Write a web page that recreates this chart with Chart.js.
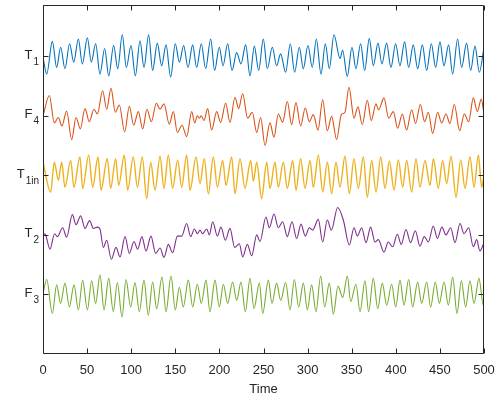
<!DOCTYPE html>
<html>
<head>
<meta charset="utf-8">
<script src="https://cdn.jsdelivr.net/npm/chart.js@4.4.1/dist/chart.umd.min.js"></script>
<style>
html,body{margin:0;padding:0;background:#fff;}
#wrap{width:500px;height:398px;}
</style>
</head>
<body>
<div id="wrap"><canvas id="c" width="500" height="398"></canvas></div>
<script>
// ---- data (time, value around each trace's baseline) ----
const labelMain = ['T', 'F', 'T', 'T', 'F'];
const labelSub  = ['1', '4', '1in', '2', '3'];
const baseline  = [4, 3, 2, 1, 0];
const xTicks = [0, 50, 100, 150, 200, 250, 300, 350, 400, 450, 500];

const T1 = [[0,-0.02],[4.2,-0.30],[10.6,0.25],[15.5,-0.19],[20.0,0.15],[24.9,-0.21],[30.2,0.21],[34.8,-0.10],[40.1,0.29],[44.6,-0.13],[50.3,0.31],[54.8,-0.10],[59.7,0.21],[64.6,-0.30],[69.9,0.13],[74.5,-0.33],[80.1,0.18],[84.7,-0.21],[89.9,0.36],[94.5,-0.19],[99.8,0.18],[104.7,-0.33],[110.0,0.26],[114.5,-0.19],[119.8,0.36],[124.3,-0.24],[129.6,0.22],[134.5,-0.16],[139.5,0.19],[144.7,-0.35],[150.0,0.21],[154.6,-0.10],[159.5,0.18],[164.4,-0.19],[169.7,0.19],[174.2,-0.19],[179.5,0.21],[184.4,-0.21],[190.1,0.29],[194.6,-0.24],[199.9,0.15],[204.1,-0.16],[209.4,0.21],[214.3,-0.24],[219.6,0.06],[224.5,-0.13],[229.8,0.19],[234.7,-0.33],[239.6,0.17],[244.5,-0.24],[249.8,0.29],[254.3,-0.21],[260.0,0.15],[264.9,-0.16],[269.4,0.04],[275.1,-0.27],[280.4,0.21],[285.3,-0.27],[290.6,0.15],[295.1,-0.21],[300.4,0.18],[305.3,-0.19],[309.9,0.29],[315.2,-0.30],[320.1,0.21],[324.6,-0.21],[329.9,0.36],[336.7,-0.04],[339.7,0.10],[345.0,-0.34],[350.3,0.15],[354.8,-0.21],[360.1,0.21],[364.7,-0.24],[370.0,0.30],[374.5,-0.16],[379.8,0.22],[384.3,-0.13],[389.6,0.22],[394.5,-0.19],[399.8,0.21],[404.7,-0.16],[410.0,0.24],[414.6,-0.19],[419.8,0.19],[424.8,-0.21],[430.1,0.19],[435.0,-0.24],[440.3,0.21],[445.2,-0.19],[450.1,0.24],[454.6,-0.16],[459.9,0.19],[464.4,-0.30],[470.1,0.29],[474.6,-0.19],[480.3,0.22],[484.9,-0.24],[489.8,0.17],[494.7,-0.27],[500.0,0.15]];

const F4 = [[0,0.00],[7.2,0.34],[12.8,-0.12],[17.4,-0.03],[21.5,-0.17],[26.8,0.08],[32.5,-0.40],[37.4,-0.03],[42.3,-0.22],[47.6,0.12],[52.5,-0.10],[57.8,0.11],[61.6,0.03],[67.6,0.42],[72.2,0.11],[77.1,0.46],[82.0,0.06],[86.5,0.18],[92.6,-0.27],[97.9,0.16],[102.8,-0.16],[108.1,0.07],[113.0,-0.22],[117.9,0.11],[122.8,-0.10],[128.5,0.21],[132.7,0.11],[137.2,0.20],[143.2,-0.14],[147.8,0.07],[152.3,-0.28],[157.6,-0.16],[162.9,-0.35],[168.6,0.07],[172.0,-0.12],[175.0,0.00],[177.3,-0.04],[179.5,0.00],[182.5,-0.08],[186.7,0.12],[191.2,-0.24],[196.9,0.07],[201.4,-0.11],[207.1,0.21],[212.0,-0.11],[217.7,0.31],[221.8,0.12],[226.4,0.37],[232.0,-0.04],[237.3,0.06],[242.3,-0.28],[246.8,-0.03],[251.7,-0.50],[257.3,-0.12],[261.9,-0.36],[266.8,0.03],[271.7,-0.11],[277.0,0.24],[281.9,-0.15],[286.8,0.22],[292.1,-0.17],[297.4,0.13],[301.9,-0.10],[306.5,0.02],[311.8,-0.24],[317.1,0.27],[322.3,-0.25],[327.3,-0.01],[332.9,-0.40],[338.2,0.02],[342.4,0.06],[346.9,0.48],[352.6,-0.04],[357.1,0.15],[362.0,-0.15],[367.7,0.26],[372.2,-0.08],[377.5,0.20],[380.5,0.10],[386.6,0.30],[391.9,-0.04],[397.2,0.07],[402.1,-0.21],[407.4,0.03],[412.3,-0.24],[418.0,0.10],[422.5,-0.13],[427.8,0.19],[432.7,-0.10],[436.9,0.06],[441.8,-0.30],[447.4,0.06],[452.0,-0.12],[456.9,0.03],[461.4,-0.13],[466.3,0.19],[472.4,-0.25],[477.7,0.03],[482.6,-0.10],[487.9,0.30],[492.4,0.07],[496.9,0.28],[500.0,0.02]];

const T1in = [[0,0.22],[8.7,-0.28],[12.8,0.22],[17.4,-0.08],[21.2,0.22],[24.9,-0.20],[31.4,0.25],[35.1,-0.20],[41.9,0.31],[45.0,-0.22],[51.8,0.34],[56.3,-0.20],[62.4,0.31],[65.8,-0.25],[72.9,0.28],[76.7,-0.22],[82.4,0.28],[85.8,-0.17],[92.2,0.34],[96.0,-0.25],[102.4,0.31],[107.0,-0.20],[112.6,0.31],[117.5,-0.39],[122.1,0.22],[127.0,-0.25],[132.7,0.32],[137.2,-0.22],[142.1,0.34],[147.0,-0.22],[152.7,0.26],[157.2,-0.20],[162.9,0.34],[166.7,-0.25],[173.5,0.31],[178.0,-0.14],[182.9,0.28],[187.5,-0.31],[193.1,0.31],[197.7,-0.20],[203.7,0.25],[207.5,-0.17],[213.9,0.31],[217.7,-0.31],[223.4,0.28],[229.0,-0.22],[235.5,0.25],[238.5,-0.10],[242.3,0.22],[247.9,-0.39],[253.6,0.22],[257.4,-0.22],[263.0,0.22],[266.8,-0.20],[272.5,0.22],[277.0,-0.22],[283.1,0.25],[286.9,-0.25],[292.1,0.28],[297.1,-0.22],[302.7,0.25],[306.5,-0.20],[312.2,0.34],[317.1,-0.28],[322.4,0.22],[327.3,-0.31],[332.2,0.22],[336.7,-0.20],[342.4,0.32],[347.3,-0.31],[352.6,0.28],[357.5,-0.22],[363.2,0.31],[367.7,-0.37],[372.6,0.25],[377.6,-0.28],[382.9,0.31],[387.8,-0.22],[392.7,0.24],[398.0,-0.25],[402.9,0.26],[407.8,-0.20],[412.3,0.25],[418.0,-0.28],[422.9,0.28],[427.4,-0.20],[433.1,0.25],[438.8,-0.17],[442.6,0.28],[448.2,-0.22],[453.1,0.25],[457.7,-0.14],[462.6,0.32],[468.3,-0.37],[473.6,0.26],[478.5,-0.22],[484.1,0.31],[488.7,-0.20],[493.6,0.34],[497.4,-0.20],[500.0,0.00]];

const T2 = [[0,0.02],[2.5,0.01],[7.9,-0.24],[13.2,0.02],[16.3,-0.03],[22.3,0.12],[26.8,-0.04],[33.3,0.34],[37.4,0.17],[42.7,0.32],[47.6,0.11],[52.9,0.24],[57.1,0.11],[61.6,0.13],[64.6,0.10],[68.4,-0.21],[72.2,-0.09],[77.5,-0.41],[82.8,-0.21],[87.3,-0.37],[93.0,-0.03],[97.9,-0.31],[103.2,-0.11],[107.3,-0.24],[112.2,-0.03],[116.8,-0.27],[122.4,-0.02],[127.7,-0.31],[132.7,-0.22],[137.2,-0.38],[142.1,-0.16],[147.0,-0.30],[152.3,-0.02],[157.2,-0.02],[162.9,0.19],[167.4,-0.03],[171.6,0.10],[175.0,0.02],[178.0,0.08],[181.0,0.02],[185.6,0.10],[188.6,0.00],[192.4,0.22],[197.7,-0.02],[201.8,0.13],[206.7,-0.09],[212.0,0.11],[217.3,-0.21],[222.6,-0.15],[226.4,-0.37],[231.7,-0.16],[236.6,-0.35],[242.3,0.00],[246.0,-0.11],[252.8,0.30],[256.6,0.12],[261.9,0.35],[266.8,0.12],[271.7,0.22],[277.0,-0.03],[282.3,0.22],[287.6,-0.06],[292.5,0.18],[297.4,-0.02],[301.9,0.12],[305.7,0.08],[312.1,0.26],[317.1,-0.12],[322.3,0.25],[326.9,0.08],[334.1,0.46],[340.5,0.25],[347.3,-0.17],[352.6,0.12],[356.4,-0.02],[361.3,0.12],[366.2,-0.13],[371.5,0.13],[376.4,-0.12],[380.2,-0.08],[386.6,-0.29],[391.5,-0.12],[396.4,-0.20],[401.7,0.01],[406.2,-0.16],[411.5,0.09],[416.8,-0.13],[422.1,0.07],[427.4,-0.19],[432.3,-0.03],[436.9,-0.12],[442.5,0.15],[447.1,-0.06],[452.3,0.13],[456.9,0.00],[462.2,0.12],[467.1,-0.13],[472.8,0.19],[477.3,0.02],[482.6,0.12],[487.9,-0.20],[491.7,-0.08],[495.4,-0.27],[500.0,-0.13]];

const F3 = [[0,0.02],[4.2,0.25],[10.6,-0.32],[15.5,0.16],[20.0,-0.15],[24.9,0.19],[29.9,-0.21],[35.1,0.16],[40.1,-0.26],[45.0,0.24],[50.3,-0.26],[55.2,0.23],[59.7,-0.15],[64.6,0.33],[69.2,-0.26],[74.5,0.27],[79.7,-0.29],[84.3,0.20],[89.6,-0.38],[94.1,0.25],[99.4,-0.21],[104.3,0.20],[109.2,-0.29],[114.5,0.24],[119.4,-0.35],[124.3,0.21],[128.9,-0.24],[134.9,0.29],[139.5,-0.29],[145.1,0.31],[150.0,-0.26],[154.6,0.12],[159.1,-0.21],[164.8,0.24],[169.7,-0.21],[175.0,0.17],[179.5,-0.15],[184.8,0.24],[189.3,-0.29],[195.0,0.24],[199.9,-0.21],[204.5,0.17],[209.4,-0.15],[215.0,0.21],[219.6,-0.10],[224.5,0.21],[229.4,-0.29],[234.7,0.27],[239.2,-0.24],[245.3,0.19],[249.1,-0.32],[255.5,0.24],[259.6,-0.15],[264.9,0.19],[269.5,-0.10],[275.1,0.20],[280.1,-0.26],[285.0,0.25],[289.9,-0.21],[295.2,0.19],[299.7,-0.26],[304.6,0.16],[309.5,-0.29],[314.8,0.31],[319.4,-0.21],[324.6,0.19],[329.2,-0.33],[334.5,0.14],[339.8,-0.05],[345.1,0.31],[348.8,-0.12],[354.9,0.17],[359.4,-0.29],[365.1,0.23],[369.2,-0.29],[374.5,0.27],[379.5,-0.24],[384.7,0.19],[389.7,-0.18],[395.3,0.17],[399.9,-0.21],[404.8,0.24],[409.3,-0.18],[414.6,0.25],[419.1,-0.21],[424.8,0.21],[429.3,-0.15],[435.0,0.21],[439.5,-0.21],[444.8,0.21],[449.4,-0.15],[454.7,0.21],[459.6,-0.18],[464.5,0.29],[469.4,-0.32],[474.3,0.23],[479.2,-0.21],[484.1,0.23],[488.7,-0.15],[494.3,0.27],[499.2,-0.18],[500.0,-0.16]];

const series = [T1, F4, T1in, T2, F3];
const colors = ['#0072BD', '#D95319', '#EDB120', '#7E2F8E', '#77AC30'];

// ---- chart ----
const AX = '#262626';
const FONT = '"Liberation Sans", Arial, Helvetica, sans-serif';

const datasets = series.map((s, i) => ({
  label: labelMain[i] + labelSub[i],
  data: s.map(p => ({x: p[0], y: baseline[i] + p[1]})),
  borderColor: colors[i],
  borderWidth: i === 2 ? 1.4 : 1.1,
  pointRadius: 0,
  fill: false,
  cubicInterpolationMode: 'monotone'
}));

const frame = {
  id: 'frame',
  afterDraw(chart) {
    const {ctx, chartArea: a, scales: {x, y}} = chart;
    ctx.save();
    ctx.strokeStyle = AX;
    ctx.lineWidth = 1;
    const L = Math.round(a.left) + 0.5, R = Math.round(a.right) - 0.5;
    const T = Math.round(a.top) + 0.5, B = Math.round(a.bottom) - 0.5;
    ctx.beginPath();
    ctx.rect(L, T, R - L, B - T);
    const tl = 5;
    xTicks.forEach(v => {
      const px = Math.round(x.getPixelForValue(v)) + 0.5;
      ctx.moveTo(px, B); ctx.lineTo(px, B - tl);
      ctx.moveTo(px, T); ctx.lineTo(px, T + tl);
    });
    baseline.forEach(v => {
      const py = Math.round(y.getPixelForValue(v)) + 0.5;
      ctx.moveTo(L, py); ctx.lineTo(L + tl, py);
      ctx.moveTo(R, py); ctx.lineTo(R - tl, py);
    });
    ctx.stroke();
    // y tick labels with subscripts
    ctx.fillStyle = AX;
    ctx.textAlign = 'left';
    ctx.textBaseline = 'alphabetic';
    const endX = a.left - 4;
    baseline.forEach((v, i) => {
      const py = y.getPixelForValue(v);
      ctx.font = '10px ' + FONT;
      const sw = ctx.measureText(labelSub[i]).width;
      ctx.font = '13px ' + FONT;
      const mw = ctx.measureText(labelMain[i]).width;
      const sx = endX - sw;
      const mx = sx - 1 - mw;
      ctx.fillText(labelMain[i], mx, py + 2.5);
      ctx.font = '10px ' + FONT;
      ctx.fillText(labelSub[i], sx, py + 8.5);
    });
    ctx.restore();
  }
};

new Chart(document.getElementById('c'), {
  type: 'line',
  data: {datasets},
  options: {
    responsive: false,
    animation: false,
    events: [],
    layout: {padding: {left: 0, top: 5, right: 16, bottom: 0}},
    plugins: {legend: {display: false}, tooltip: {enabled: false}},
    scales: {
      x: {
        type: 'linear', min: 0, max: 500,
        afterBuildTicks: s => { s.ticks = xTicks.map(v => ({value: v})); },
        afterFit: s => { s.height = 44; s.paddingLeft = 0; s.paddingRight = 0; },
        grid: {display: false, drawTicks: false},
        border: {display: false},
        ticks: {color: AX, font: {family: FONT, size: 13}, padding: 9, maxRotation: 0, autoSkip: false},
        title: {display: true, text: 'Time', color: AX, font: {family: FONT, size: 13}, padding: {top: 0, bottom: 1}}
      },
      y: {
        type: 'linear', min: -1, max: 4.86,
        afterFit: s => { s.width = 43; s.paddingTop = 0; s.paddingBottom = 0; },
        grid: {display: false, drawTicks: false},
        border: {display: false},
        ticks: {display: false}
      }
    }
  },
  plugins: [frame]
});
</script>
</body>
</html>
